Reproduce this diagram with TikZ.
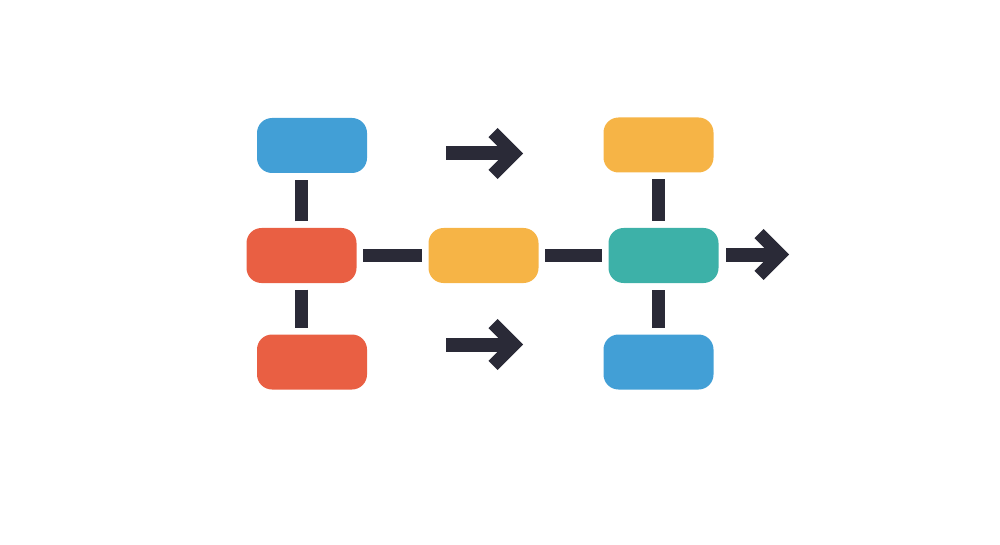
\documentclass[tikz,border=0pt]{standalone}
\definecolor{cblue}{HTML}{429FD6}
\definecolor{cred}{HTML}{E95F43}
\definecolor{cyellow}{HTML}{F6B446}
\definecolor{cteal}{HTML}{3DB1A8}
\definecolor{cdark}{HTML}{2A2A37}
\begin{document}
\begin{tikzpicture}[x=1pt,y=-1pt,
  box/.style={rounded corners=15pt, minimum width=110pt, minimum height=55pt, inner sep=0pt, draw=none},
  conn/.style={line width=13pt, draw=cdark, shorten <=6.5pt, shorten >=6.5pt},
  shaft/.style={line width=14pt, draw=cdark},
  chev/.style={line width=13pt, draw=cdark, line join=miter, miter limit=10}]
\useasboundingbox (0,0) rectangle (1000,545);
% boxes
\node[box, fill=cblue]   (tl) at (312,145.5) {};
\node[box, fill=cred]    (ml) at (301.5,255.5) {};
\node[box, fill=cred]    (bl) at (312,362) {};
\node[box, fill=cyellow] (mm) at (483.5,255.5) {};
\node[box, fill=cyellow] (tr) at (658.5,145) {};
\node[box, fill=cteal]   (mr) at (663.5,255.5) {};
\node[box, fill=cblue]   (br) at (658.5,362) {};
% connectors
\draw[conn] (ml.north) -- (ml.north |- tl.south);
\draw[conn] (ml.south) -- (ml.south |- bl.north);
\draw[conn] (ml) -- (mm);
\draw[conn] (mm) -- (mr);
\draw[conn] (tr.south) -- (tr.south |- mr.north);
\draw[conn] (br.north) -- (br.north |- mr.south);
% arrows
\coordinate (a1s) at (446,153.5);
\coordinate (a1t) at (514,153.5);
\coordinate (a2s) at (446,344.5);
\coordinate (a2t) at (514,344.5);
\coordinate (a3s) at (726,254.5);
\coordinate (a3t) at (780,254.5);
\foreach \s/\t in {a1s/a1t, a2s/a2t, a3s/a3t}{
  \draw[shaft] (\s) -- (\t);
  \draw[chev] ([shift={(-21,-21)}]\t) -- (\t) -- ([shift={(-21,21)}]\t);
}
\end{tikzpicture}
\end{document}
